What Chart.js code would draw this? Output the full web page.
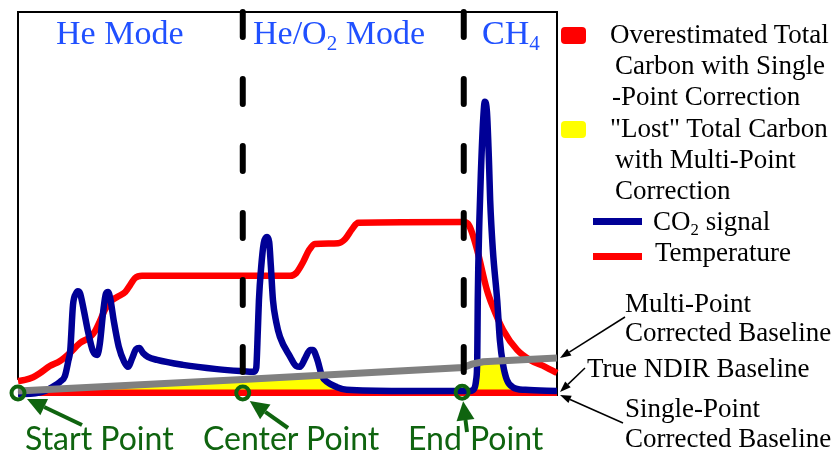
<!DOCTYPE html>
<html>
<head>
<meta charset="utf-8">
<script src="https://cdn.jsdelivr.net/npm/chart.js@4.4.0/dist/chart.umd.min.js"></script>
<style>
body { margin: 0; background: #fff; }
#wrap { position: relative; width: 835px; height: 452px; overflow: hidden; }
#wrap canvas { position: absolute; left: 0; top: 0; }
.t { position: absolute; white-space: nowrap; line-height: 1; }
.serif { font-family: "Liberation Serif", "DejaVu Serif", serif; }
.mode { color: #2050ff; font-size: 34px; }
.leg { color: #000; font-size: 27px; }
.green { font-family: Lato, "Noto Sans", sans-serif; color: #0f640f; font-size: 32px; }
sub { font-size: 0.62em; vertical-align: -0.3em; line-height: 0; }
.sw { position: absolute; }
</style>
</head>
<body>
<div id="wrap">
  <canvas id="tcChart" width="835" height="452"></canvas>

  <div class="t serif mode" style="left:56px;top:15.5px">He Mode</div>
  <div class="t serif mode" style="left:253px;top:15.5px">He/O<sub>2</sub> Mode</div>
  <div class="t serif mode" style="left:482px;top:15.5px">CH<sub>4</sub></div>

  <div class="sw" style="left:561px;top:27px;width:25px;height:17px;background:#ff0000;border-radius:4px"></div>
  <div class="t serif leg" style="left:610px;top:21.4px">Overestimated Total</div>
  <div class="t serif leg" style="left:615px;top:52.4px">Carbon with Single</div>
  <div class="t serif leg" style="left:612px;top:83.4px">-Point Correction</div>
  <div class="sw" style="left:561px;top:121px;width:25px;height:17px;background:#ffff00;border-radius:4px"></div>
  <div class="t serif leg" style="left:610px;top:114.9px">"Lost" Total Carbon</div>
  <div class="t serif leg" style="left:615px;top:145.9px">with Multi-Point</div>
  <div class="t serif leg" style="left:615px;top:176.9px">Correction</div>
  <div class="sw" style="left:593px;top:218px;width:49px;height:7px;background:#000096"></div>
  <div class="t serif leg" style="left:653px;top:208.4px">CO<sub>2</sub> signal</div>
  <div class="sw" style="left:593px;top:252.5px;width:49px;height:7px;background:#ff0000"></div>
  <div class="t serif leg" style="left:655px;top:239.4px">Temperature</div>

  <div class="t serif leg" style="left:625px;top:290.4px">Multi-Point</div>
  <div class="t serif leg" style="left:625px;top:319.4px">Corrected Baseline</div>
  <div class="t serif leg" style="left:587px;top:355.4px">True NDIR Baseline</div>
  <div class="t serif leg" style="left:625px;top:395.4px">Single-Point</div>
  <div class="t serif leg" style="left:625px;top:425.4px">Corrected Baseline</div>

  <div class="t green" style="left:25px;top:421.6px">Start Point</div>
  <div class="t green" style="left:203px;top:421.6px">Center Point</div>
  <div class="t green" style="left:408px;top:421.6px">End Point</div>
</div>

<script>
// run time in % of the analysis, signal in % of the plot height
const timeBlue = [0, 3.2, 5, 6.3, 7.8, 8.7, 9.3, 9.7, 10.2, 10.8, 11.1, 11.5, 12.2, 13, 13.9, 14.7, 15.2, 15.8, 16.3, 16.7,
  17.1, 17.8, 18.7, 19.7, 20.4, 21.2, 21.9, 22.5, 23.2, 24.1, 25.8, 30.6, 36.9, 41.2, 43.8, 44.2, 44.5, 44.7, 45.1, 45.6,
  46.2, 46.6, 46.9, 47.3, 47.9, 48.6, 50.5, 51.6, 52.3, 53.3, 54.2, 54.7, 55.5, 56.4, 57.3, 59.2, 61, 70.9, 83.9, 84.6,
  85, 85.2, 85.3, 85.6, 85.9, 86.3, 86.6, 87, 87.4, 87.6, 88.1, 88.9, 89.4, 90, 90.7, 91.8, 94.1, 100];
const co2Signal = [0.5, 0.7, 1.3, 2.3, 3.7, 5.2, 8.9, 12, 23.7, 26.8, 27.3, 26.8, 22.4, 16.7, 11.7, 10.7, 13.8, 21.9, 26.6, 27.1,
  25.5, 19.3, 12.8, 8.9, 7.6, 9.9, 12.2, 12.5, 11.2, 10.2, 9.4, 8.1, 7, 6.5, 6.3, 7.3, 17.2, 25, 33.3, 39.8,
  41.4, 40.1, 34.1, 25, 19.3, 15.4, 10.2, 7.8, 7.6, 9.9, 12, 12, 9.6, 5.2, 3.7, 2.3, 1.6, 1.3, 1.3, 1.8,
  4.2, 9.4, 25, 45.8, 58.9, 71.9, 76.6, 74, 60.2, 51, 38, 25, 14.6, 8.1, 4.2, 2.3, 1.6, 1.3];

const timeTemp = [0, 1.3, 2.8, 4.1, 5.9, 7.8, 9.6, 11.5, 13.4, 14.3, 15.2, 16.1, 17.1, 18.4, 19.9, 20.8, 21.7, 23, 50.5,
  51.6, 52.9, 54, 55.1, 59.4, 60.7, 62, 63.1, 82.6, 83.5, 84.2, 85.2, 87, 88.1, 90, 92.6, 95, 97.8, 100];
const temperature = [3.9, 4.2, 4.9, 6, 7.8, 9.1, 11.2, 13.8, 15.4, 16.9, 19.5, 22.4, 24.5, 25.8, 27.1, 28.9, 30.7, 31.3, 31.3,
  32, 34.9, 38, 39.6, 39.8, 40.9, 43.5, 45.1, 45.3, 44.8, 42.7, 38, 27.6, 23.2, 17.2, 12, 9.4, 7.6, 6];

const timeMulti = [0, 41.7, 82.6, 84.2, 86.3, 100];
const multiBaseline = [1.3, 4.3, 7.4, 8.3, 8.9, 9.9];

const timeLost = [0, 41.7, 56.4, 57.3, 59.2, 61, 84.8, 85, 85.2, 86.3, 89.9, 90.7, 91.8, 92.8, 100];
const lostTop = [1.3, 4.3, 5.3, 3.6, 2.3, 1.7, 1.7, 4.2, 7.5, 8.9, 9.1, 4.2, 2.3, 1.7, 1.7];

const timeSingle = [0, 100];
const overestTop = [1.7, 1.7];

const pointTimes = [0, 41.7, 82.4];
const pointLevel = [0.8, 0.8, 1.0];

const dividerTimes = [41.7, 82.7];
const dividerTop = 100;
const dividerBottom = 5.5;

const GREEN = '#0f640f';

function pts(xs, ys) {
  return xs.map((x, i) => ({ x: x, y: ys[i] }));
}

function arrow(ctx, x1, y1, x2, y2, color, w, head, hw) {
  const a = Math.atan2(y2 - y1, x2 - x1);
  const bx = x2 - head * Math.cos(a), by = y2 - head * Math.sin(a);
  ctx.save();
  ctx.strokeStyle = color;
  ctx.fillStyle = color;
  ctx.lineWidth = w;
  ctx.beginPath();
  ctx.moveTo(x1, y1);
  ctx.lineTo(bx, by);
  ctx.stroke();
  ctx.beginPath();
  ctx.moveTo(x2, y2);
  ctx.lineTo(bx + hw * Math.sin(a), by - hw * Math.cos(a));
  ctx.lineTo(bx - hw * Math.sin(a), by + hw * Math.cos(a));
  ctx.closePath();
  ctx.fill();
  ctx.restore();
}

const framePlugin = {
  id: 'frame',
  beforeDatasetsDraw(chart) {
    const { ctx, chartArea, scales } = chart;
    ctx.save();
    ctx.strokeStyle = '#000';
    ctx.lineWidth = 2;
    ctx.beginPath();
    ctx.moveTo(chartArea.left, scales.y.getPixelForValue(4.2));
    ctx.lineTo(chartArea.left, chartArea.top);
    ctx.lineTo(chartArea.right, chartArea.top);
    ctx.lineTo(chartArea.right, scales.y.getPixelForValue(0));
    ctx.stroke();
    ctx.restore();
  },
  afterDraw(chart) {
    const { ctx, chartArea, scales } = chart;
    const xr = chartArea.right + 3;
    // black callouts on the right
    arrow(ctx, 625, 317, xr, scales.y.getPixelForValue(multiBaseline[multiBaseline.length - 1]), '#000', 1.5, 11, 4);
    arrow(ctx, 585, 368, xr, scales.y.getPixelForValue(co2Signal[co2Signal.length - 1]) + 1, '#000', 1.5, 11, 4);
    arrow(ctx, 623, 423, xr, scales.y.getPixelForValue(0) - 1, '#000', 1.5, 11, 4);
    // green callouts
    const px = v => scales.x.getPixelForValue(v);
    const py = v => scales.y.getPixelForValue(v);
    arrow(ctx, 82, 425, px(pointTimes[0]) + 9, py(pointLevel[0]) + 6, GREEN, 4, 19, 9);
    arrow(ctx, 288, 428, px(pointTimes[1]) + 7, py(pointLevel[1]) + 8, GREEN, 4, 19, 9);
    arrow(ctx, 467, 432, px(pointTimes[2]) + 1, py(pointLevel[2]) + 9, GREEN, 4, 19, 9);
  }
};

const datasets = [
  {
    label: '"Lost" Total Carbon with Multi-Point Correction',
    data: pts(timeLost, lostTop),
    borderWidth: 0,
    backgroundColor: '#ffff00',
    fill: 'origin',
    tension: 0,
    pointRadius: 0,
    order: 8
  },
  {
    label: 'Overestimated Total Carbon with Single-Point Correction',
    data: pts(timeSingle, overestTop),
    borderWidth: 0,
    backgroundColor: '#ff0000',
    fill: 'origin',
    pointRadius: 0,
    order: 7
  },
  {
    label: 'Temperature',
    data: pts(timeTemp, temperature),
    borderColor: '#ff0000',
    borderWidth: 6.5,
    cubicInterpolationMode: 'monotone',
    pointRadius: 0,
    fill: false,
    clip: false,
    order: 6
  },
  {
    label: 'CO2 signal',
    data: pts(timeBlue, co2Signal),
    borderColor: '#000096',
    borderWidth: 6.5,
    cubicInterpolationMode: 'monotone',
    pointRadius: 0,
    fill: false,
    clip: false,
    order: 5
  },
  {
    label: 'Multi-Point Corrected Baseline',
    data: pts(timeMulti, multiBaseline),
    borderColor: '#808080',
    borderWidth: 7,
    tension: 0,
    pointRadius: 0,
    fill: false,
    clip: false,
    order: 4
  }
];

dividerTimes.forEach((t, i) => {
  datasets.push({
    label: 'divider ' + (i + 1),
    data: [{ x: t, y: dividerTop }, { x: t, y: dividerBottom }],
    borderColor: '#000',
    borderWidth: 6,
    borderDash: [25, 42],
    borderCapStyle: 'round',
    pointRadius: 0,
    fill: false,
    clip: false,
    order: 2
  });
});

datasets.push({
  label: 'correction points',
  data: pts(pointTimes, pointLevel),
  showLine: false,
  pointRadius: 6.5,
  pointBorderWidth: 4,
  pointBorderColor: GREEN,
  pointBackgroundColor: 'rgba(0,0,0,0)',
  clip: false,
  order: 1
});

new Chart(document.getElementById('tcChart').getContext('2d'), {
  type: 'line',
  data: { datasets: datasets },
  options: {
    responsive: false,
    animation: false,
    devicePixelRatio: 1,
    layout: { padding: { left: 18, right: 278, top: 12, bottom: 56 } },
    scales: {
      x: { type: 'linear', min: 0, max: 100, display: false },
      y: { type: 'linear', min: 0, max: 100, display: false }
    },
    plugins: {
      legend: { display: false },
      tooltip: { enabled: false }
    }
  },
  plugins: [framePlugin]
});
</script>
</body>
</html>
